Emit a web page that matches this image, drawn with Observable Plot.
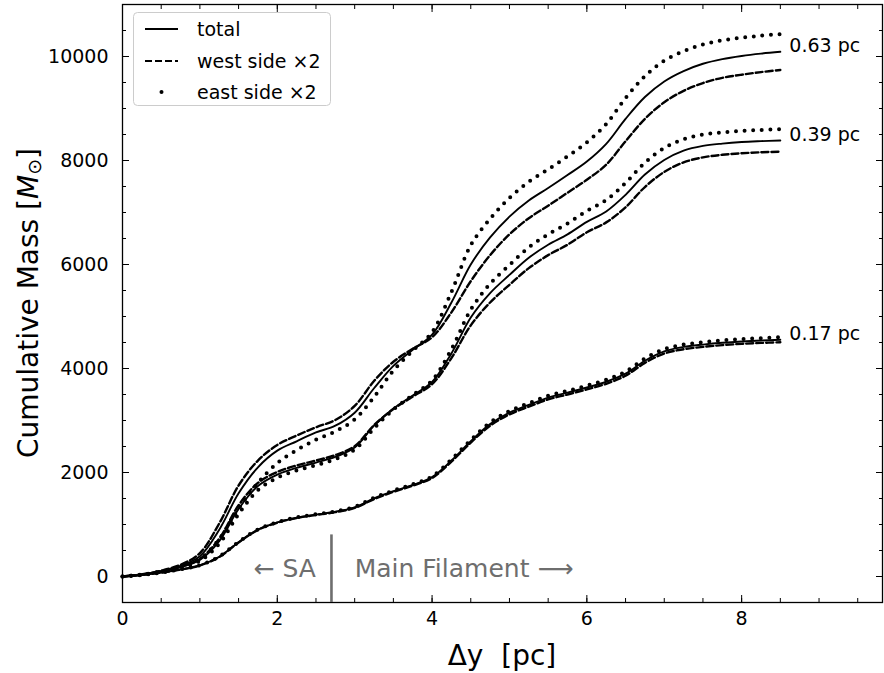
<!DOCTYPE html>
<html><head><meta charset="utf-8">
<script src="https://cdn.jsdelivr.net/npm/d3@7"></script>
<script src="https://cdn.jsdelivr.net/npm/@observablehq/plot@0.6"></script>
<style>
html,body{margin:0;padding:0;background:#fff;}
#chart{position:relative;width:884px;height:673px;}
</style></head><body><div id="chart"></div>
<script>
// Δy positions (pc)
const dyPc = [0,0.25,0.5,0.75,1,1.25,1.5,1.75,2,2.25,2.5,2.75,3,3.25,3.5,3.75,4,4.25,4.5,4.75,5,5.25,5.5,5.75,6,6.25,6.5,6.75,7,7.25,7.5,7.75,8,8.25,8.5];

// 0.17 pc
const total017 = [0,30,75,135,215,380,660,900,1040,1130,1190,1245,1330,1500,1640,1760,1910,2230,2600,2930,3150,3300,3440,3535,3635,3745,3900,4150,4330,4415,4460,4495,4520,4538,4553];
const west017  = [0,30,74,133,212,376,655,895,1035,1124,1183,1237,1320,1488,1628,1747,1895,2210,2575,2900,3118,3266,3405,3500,3598,3706,3860,4108,4288,4371,4415,4450,4474,4492,4505];
const east017  = [0,30,76,137,218,384,665,905,1045,1136,1197,1253,1340,1512,1652,1773,1925,2250,2625,2960,3182,3334,3475,3570,3672,3784,3940,4192,4372,4459,4505,4540,4566,4584,4601];

// 0.39 pc
const total039 = [0,35,95,180,320,680,1300,1740,1960,2090,2190,2300,2480,2900,3230,3480,3740,4290,4980,5450,5800,6130,6380,6580,6820,7020,7340,7730,8010,8190,8280,8325,8355,8372,8385];
const west039  = [0,36,98,187,340,730,1370,1800,2010,2135,2230,2335,2505,2910,3220,3460,3700,4200,4830,5270,5610,5930,6180,6380,6620,6810,7100,7490,7780,7965,8060,8110,8140,8158,8170];
const east039  = [0,34,92,173,300,630,1200,1660,1900,2040,2140,2255,2440,2850,3210,3490,3770,4370,5130,5630,5990,6330,6580,6790,7030,7240,7570,7960,8240,8410,8500,8540,8570,8588,8600];

// 0.63 pc
const total063 = [0,40,105,205,390,900,1600,2100,2420,2600,2770,2900,3150,3620,4050,4360,4650,5270,6000,6520,6920,7230,7470,7720,7980,8320,8800,9220,9520,9720,9860,9950,10010,10055,10090];
const west063  = [0,42,113,225,450,1020,1750,2230,2530,2710,2870,3010,3280,3760,4130,4380,4600,5080,5680,6180,6580,6890,7130,7380,7630,7920,8370,8800,9120,9340,9490,9590,9650,9700,9740];
const east063  = [0,38,97,185,330,720,1300,1800,2180,2430,2630,2790,3020,3450,3960,4340,4700,5470,6370,6880,7280,7590,7830,8080,8350,8700,9200,9620,9920,10100,10230,10310,10360,10400,10430];

const widthLabels = ["0.17 pc","0.39 pc","0.63 pc"];
const xTicks = [0,2,4,6,8];
const yTicks = [0,2000,4000,6000,8000,10000];
const legendLabels = ["total","west side \u00d72","east side \u00d72"];
const regionLabels = ["\u2190 SA","Main Filament \u27f6"];
const boundaryPc = 2.7;

const groups = [
  {name: widthLabels[0], total: total017, west: west017, east: east017},
  {name: widthLabels[1], total: total039, west: west039, east: east039},
  {name: widthLabels[2], total: total063, west: west063, east: east063}
];
const rows = [];
for (const g of groups) {
  for (const side of ["total","west","east"]) {
    g[side].forEach((v, i) => rows.push({x: dyPc[i], y: v, group: g.name, side}));
  }
}
const ends = groups.map(g => ({x: dyPc[dyPc.length-1], y: g.total[g.total.length-1], label: g.name}));

const xMinor = d3.range(0, 9.81, 0.5);
const yMinor = d3.range(-500, 11001, 500);
const blank = () => "";
const font = "DejaVu Sans, sans-serif";

const plot = Plot.plot({
  width: 884, height: 673,
  marginLeft: 122, marginRight: 2, marginTop: 4, marginBottom: 71,
  style: {fontFamily: font, fontSize: "19px", color: "black", background: "white"},
  x: {domain: [0, 9.82]},
  y: {domain: [-500, 11000]},
  marks: [
    Plot.frame({stroke: "black", strokeWidth: 1.3}),
    Plot.axisX({ticks: xTicks, tickSize: -7, tickPadding: 16, tickFormat: d => String(d), label: null}),
    Plot.axisX({ticks: xMinor, tickSize: -4, tickFormat: blank, label: null}),
    Plot.axisX({anchor: "top", ticks: xTicks, tickSize: -7, tickFormat: blank, label: null}),
    Plot.axisX({anchor: "top", ticks: xMinor, tickSize: -4, tickFormat: blank, label: null}),
    Plot.axisY({ticks: yTicks, tickSize: -7, tickPadding: 21, tickFormat: d => String(d), label: null}),
    Plot.axisY({ticks: yMinor, tickSize: -4, tickFormat: blank, label: null}),
    Plot.axisY({anchor: "right", ticks: yTicks, tickSize: -7, tickFormat: blank, label: null}),
    Plot.axisY({anchor: "right", ticks: yMinor, tickSize: -4, tickFormat: blank, label: null}),
    Plot.ruleX([boundaryPc], {y1: -500, y2: 800, stroke: "#6e6e6e", strokeWidth: 2.6}),
    Plot.text([regionLabels[0]], {x: 2.5, y: 150, text: d => d, textAnchor: "end", lineAnchor: "middle", fill: "#6e6e6e", fontSize: 25}),
    Plot.text([regionLabels[1]], {x: 3.0, y: 150, text: d => d, textAnchor: "start", lineAnchor: "middle", fill: "#6e6e6e", fontSize: 25}),
    Plot.line(rows.filter(d => d.side === "total"), {x: "x", y: "y", z: "group", stroke: "black", strokeWidth: 1.9, curve: "catmull-rom"}),
    Plot.line(rows.filter(d => d.side === "west"), {x: "x", y: "y", z: "group", stroke: "black", strokeWidth: 2.4, strokeDasharray: "7,3", curve: "catmull-rom"}),
    Plot.line(rows.filter(d => d.side === "east"), {x: "x", y: "y", z: "group", stroke: "black", strokeWidth: 4, strokeDasharray: "0,8.6", strokeLinecap: "round", curve: "catmull-rom"}),
    Plot.text(ends, {x: "x", y: "y", text: "label", dx: 9, dy: -6, textAnchor: "start", lineAnchor: "middle", fontSize: 19})
  ]
});
document.getElementById("chart").appendChild(plot);

const svg = d3.select(plot);
// axis labels
svg.append("text").attr("x", 502).attr("y", 655).attr("text-anchor", "middle")
  .attr("dominant-baseline", "central").attr("font-size", 28).attr("font-family", font)
  .attr("xml:space", "preserve").style("white-space", "pre").text("\u0394y  [pc]");
const yl = svg.append("text").attr("transform", "translate(28,303) rotate(-90)")
  .attr("text-anchor", "middle").attr("dominant-baseline", "central")
  .attr("font-size", 28).attr("font-family", font);
yl.append("tspan").text("Cumulative Mass [");
yl.append("tspan").attr("font-style", "italic").text("M");
yl.append("tspan").attr("font-size", 19).attr("dy", 6).text("\u2299");
yl.append("tspan").attr("dy", -6).text("]");

// legend
const lg = svg.append("g").attr("font-family", font).attr("font-size", 19).attr("text-anchor", "start");
lg.append("rect").attr("x", 133.5).attr("y", 12.5).attr("width", 197).attr("height", 93).attr("rx", 4)
  .attr("fill", "white").attr("fill-opacity", 0.8).attr("stroke", "#cccccc");
const ly = [29, 61, 92];
lg.append("line").attr("x1", 145).attr("x2", 178).attr("y1", ly[0]).attr("y2", ly[0]).attr("stroke", "black").attr("stroke-width", 1.9);
lg.append("line").attr("x1", 145).attr("x2", 178).attr("y1", ly[1]).attr("y2", ly[1]).attr("stroke", "black").attr("stroke-width", 2.1).attr("stroke-dasharray", "7,3");
lg.append("circle").attr("cx", 161.5).attr("cy", ly[2]).attr("r", 2).attr("fill", "black");
legendLabels.forEach((t, i) => lg.append("text").attr("x", 197).attr("y", ly[i]).attr("dominant-baseline", "central").attr("text-anchor", "start").text(t));
</script>
</body></html>
